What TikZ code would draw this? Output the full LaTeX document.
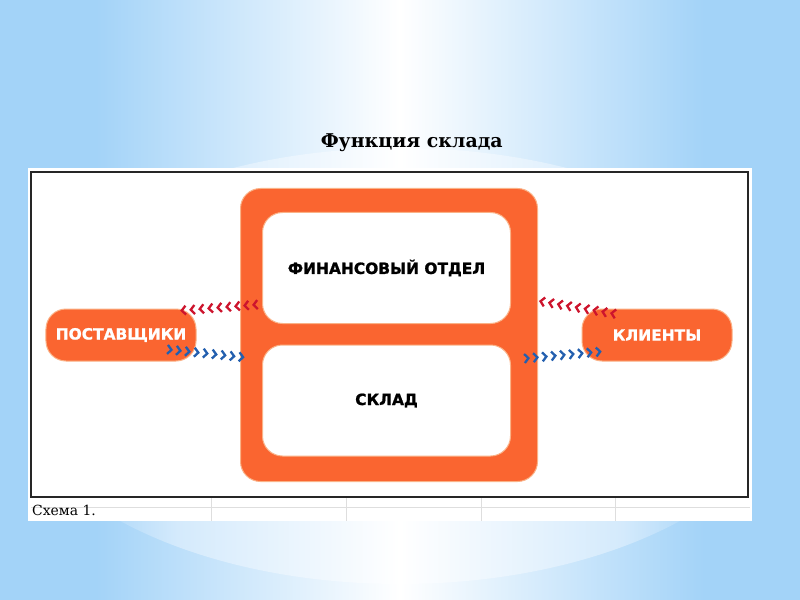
\documentclass[tikz,border=0pt]{standalone}
\usepackage{fontspec}
\setmainfont{DejaVu Serif}
\setsansfont{DejaVu Sans}
\newfontfamily\heavyfont[FakeBold=1.2]{DejaVu Sans Bold}
\usetikzlibrary{arrows.meta,decorations.markings}
\definecolor{skyblue}{RGB}{163,211,248}
\definecolor{paleblue}{RGB}{212,234,252}
\definecolor{boxorange}{RGB}{250,101,48}
\definecolor{peach}{RGB}{250,178,135}
\definecolor{arrowred}{RGB}{205,20,45}
\definecolor{arrowblue}{RGB}{35,95,175}
\definecolor{cellgray}{RGB}{222,222,222}
\pgfdeclarehorizontalshading{glow}{100bp}{color(0bp)=(skyblue); color(31bp)=(skyblue); color(50bp)=(white); color(69bp)=(skyblue); color(100bp)=(skyblue)}
\pgfdeclarehorizontalshading{paleglow}{100bp}{color(0bp)=(skyblue); color(30bp)=(skyblue); color(36bp)=(paleblue); color(50bp)=(white); color(64bp)=(paleblue); color(70bp)=(skyblue); color(100bp)=(skyblue)}

\begin{document}
\begin{tikzpicture}[x=1bp, y=-1bp,
    main node/.style={rounded corners=20bp, fill=boxorange, draw=peach, line width=1bp, inner sep=0pt},
    inner node/.style={rounded corners=20bp, fill=white, draw=peach, line width=1bp, inner sep=0pt,
        minimum width=248bp, minimum height=111bp, font=\heavyfont\fontsize{15.5}{18}\selectfont},
    side node/.style={main node, minimum width=150bp, minimum height=52bp, node distance=268bp,
        text=white, font=\heavyfont\fontsize{15.5}{18}\selectfont},
    chevrons/.style={decoration={markings, mark=between positions 0 and 1 step 9bp with
        {\arrow{Straight Barb[length=4bp,width=9bp,line width=2.3bp]}}}, postaction=decorate}]
        \tikzstyle{every node}=[font=\small]

          % background of the slide
          \useasboundingbox (0,0) rectangle (800,600);
          \shade[shading=glow] (0,0) rectangle (800,600);
          \shade[shading=paleglow] (400,366) ellipse [x radius=398, y radius=218];

          \node[font=\bfseries\fontsize{19}{23}\selectfont, anchor=base] (title) at (411.7,147.3) {Функция склада};

          % scanned figure
          \fill[white] (28,168) rectangle (752,521);
          \foreach \x in {211,346,481,615}
            \draw[cellgray] (\x,497) -- (\x,521);
          \draw[cellgray] (31,507) -- (750,507);
          \draw[line width=1.5bp, black!85] (31,172) rectangle (748,497);
          \node[anchor=base west, inner sep=1bp, font=\fontsize{14}{16}\selectfont] (caption) at (31,515) {Схема 1.};

          \node[main node, minimum width=297bp, minimum height=293bp] (1) at (389,335) {};
          \node[inner node, above of=1, node distance=67bp, xshift=-2.5bp] (2) {ФИНАНСОВЫЙ ОТДЕЛ};
          \node[inner node, below of=1, node distance=65.5bp, xshift=-2.5bp] (3) {СКЛАД};
          \node[side node, left of=1] (4) {ПОСТАВЩИКИ};
          \node[side node, right of=1] (5) {КЛИЕНТЫ};

          % ends of the chevron connectors
          \coordinate (4a) at (175,311);
          \coordinate (4b) at (173,350);
          \coordinate (1a) at (252,305);
          \coordinate (1b) at (251,358);
          \coordinate (1c) at (533,300);
          \coordinate (1d) at (530,358);
          \coordinate (5a) at (610,313);
          \coordinate (5b) at (607,351);

          \path[chevrons, arrowred] (1a) -- (4a);
          \path[chevrons, arrowblue] (4b) -- (1b);
          \path[chevrons, arrowred] (5a) -- (1c);
          \path[chevrons, arrowblue] (1d) -- (5b);

        \end{tikzpicture}
\end{document}
